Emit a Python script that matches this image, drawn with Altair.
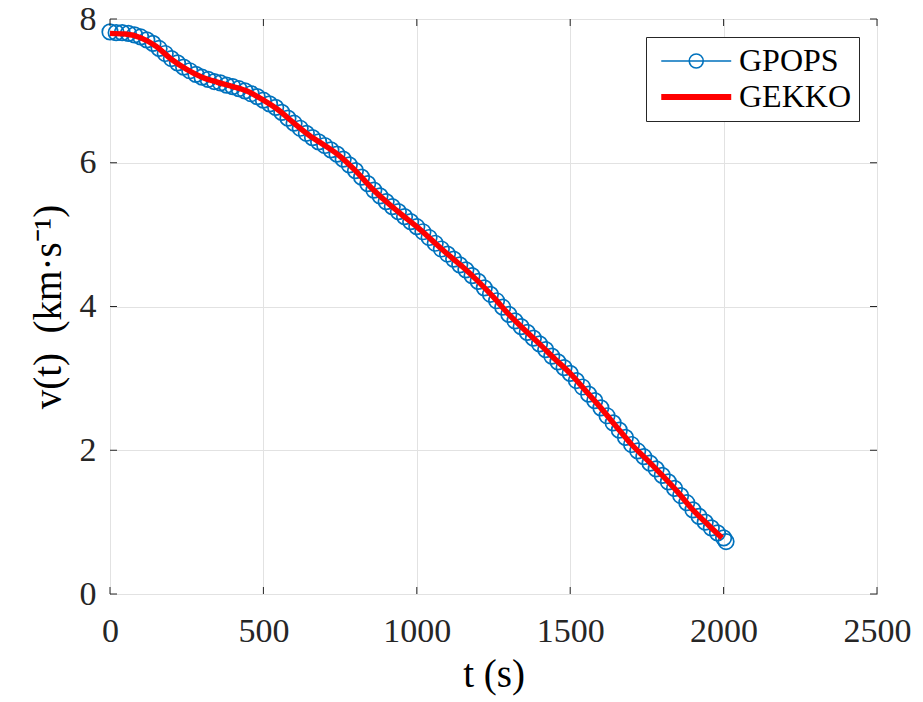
import altair as alt
import pandas as pd

# ---------------- data ----------------
gpops_t = [0, 20, 40, 60, 80, 100, 120, 140, 160, 180, 200, 220, 240, 260, 280, 300,
           320, 340, 360, 380, 400, 420, 440, 460, 480, 500, 520, 540, 560, 580, 600,
           620, 640, 660, 680, 700, 720, 740, 760, 780, 800, 820, 840, 860, 880, 900,
           920, 940, 960, 980, 1000, 1020, 1040, 1060, 1080, 1100, 1120, 1140, 1160,
           1180, 1200, 1220, 1240, 1260, 1280, 1300, 1320, 1340, 1360, 1380, 1400,
           1420, 1440, 1460, 1480, 1500, 1520, 1540, 1560, 1580, 1600, 1620, 1640,
           1660, 1680, 1700, 1720, 1740, 1760, 1780, 1800, 1820, 1840, 1860, 1880,
           1900, 1920, 1940, 1960, 1980, 2000, 2008]
gpops_v = [7.82, 7.81, 7.81, 7.80, 7.78, 7.75, 7.71, 7.66, 7.59, 7.52, 7.45, 7.39, 7.33,
           7.28, 7.23, 7.19, 7.16, 7.13, 7.11, 7.08, 7.06, 7.03, 7.00, 6.96, 6.92, 6.87,
           6.82, 6.77, 6.70, 6.62, 6.55, 6.48, 6.41, 6.35, 6.29, 6.24, 6.18, 6.12, 6.05,
           5.97, 5.89, 5.80, 5.71, 5.62, 5.54, 5.46, 5.39, 5.32, 5.25, 5.18, 5.11, 5.04,
           4.96, 4.88, 4.80, 4.73, 4.66, 4.58, 4.51, 4.43, 4.35, 4.26, 4.17, 4.08, 3.99,
           3.89, 3.80, 3.72, 3.64, 3.56, 3.48, 3.40, 3.31, 3.23, 3.15, 3.07, 2.97, 2.88,
           2.78, 2.69, 2.59, 2.48, 2.38, 2.28, 2.18, 2.08, 1.99, 1.91, 1.82, 1.74, 1.65,
           1.56, 1.47, 1.37, 1.27, 1.17, 1.08, 1.00, 0.92, 0.85, 0.78, 0.73]

gekko_t = [0, 50, 100, 150, 200, 250, 300, 350, 400, 450, 500, 550, 600, 650, 700, 750,
           800, 850, 900, 950, 1000, 1050, 1100, 1150, 1200, 1250, 1300, 1350, 1400,
           1450, 1500, 1550, 1600, 1650, 1700, 1750, 1800, 1850, 1900, 1950, 1995]
gekko_v = [7.80, 7.79, 7.74, 7.62, 7.44, 7.30, 7.19, 7.12, 7.06, 6.99, 6.87, 6.73, 6.55,
           6.38, 6.24, 6.09, 5.89, 5.66, 5.46, 5.28, 5.11, 4.92, 4.73, 4.55, 4.35, 4.13,
           3.89, 3.68, 3.48, 3.27, 3.07, 2.83, 2.59, 2.33, 2.08, 1.87, 1.65, 1.42, 1.17,
           0.96, 0.78]

series_names = ["GPOPS", "GEKKO"]
series_colors = ["#0072BD", "#FF0000"]

x_ticks = [0, 500, 1000, 1500, 2000, 2500]
y_ticks = [0, 2, 4, 6, 8]

W, H = 767, 575
FONT = "Liberation Serif"
AXC = "#262626"

gpops_df = pd.DataFrame({"t": gpops_t, "v": gpops_v, "series": "GPOPS"})
gekko_df = pd.DataFrame({"t": gekko_t, "v": gekko_v, "series": "GEKKO"})
xt_df = pd.DataFrame({"t": x_ticks})
yt_df = pd.DataFrame({"v": y_ticks})

xscale = alt.Scale(domain=[0, 2500], nice=False, zero=False)
yscale = alt.Scale(domain=[0, 8], nice=False, zero=False)

path_gpops = "M-1,0H7M3.8,0A0.8,0.8 0 1,1 2.2,0A0.8,0.8 0 1,1 3.8,0"
path_gekko = "M-1,0H7"

legend = alt.Legend(
    title=None,
    orient="top-right",
    offset=18,
    labelFont=FONT,
    labelFontSize=32,
    labelColor="#000000",
    labelOffset=53,
    symbolSize=306,
    symbolType={"expr": f"datum.value === 'GPOPS' ? '{path_gpops}' : '{path_gekko}'"},
    symbolStrokeWidth={"expr": "datum.value === 'GPOPS' ? 1.6 : 6"},
    symbolFillColor="transparent",
    symbolOpacity=1,
    fillColor="white",
    strokeColor=AXC,
    padding=8,
    rowPadding=4,
    labelLimit=300,
)

color = alt.Color("series:N", scale=alt.Scale(domain=series_names, range=series_colors),
                  legend=legend)

xaxis = alt.Axis(values=x_ticks, format="d", title="t\u00a0(s)", titleY=80,
                 titleBaseline="middle", labelPadding=20, labelFlush=False,
                 labelFont=FONT, titleFont=FONT)
yaxis = alt.Axis(values=y_ticks, format="d", title="v(t)\u00a0\u00a0(km·s⁻¹)",
                 titleX=-62, titleY=H / 2, titleBaseline="middle", titleAngle=270,
                 titleAlign="center", labelPadding=14, labelFont=FONT, titleFont=FONT)

points = alt.Chart(gpops_df).mark_point(filled=False, size=240, strokeWidth=1.7, opacity=1).encode(
    x=alt.X("t:Q", scale=xscale, axis=xaxis),
    y=alt.Y("v:Q", scale=yscale, axis=yaxis),
    color=color,
)

line = alt.Chart(gekko_df).mark_line(strokeWidth=5.5, interpolate="monotone").encode(
    x=alt.X("t:Q", scale=xscale),
    y=alt.Y("v:Q", scale=yscale),
    color=color,
)

TL = 7
bottom_ticks = alt.Chart(xt_df).mark_rule(color=AXC, strokeWidth=1).encode(
    x=alt.X("t:Q", scale=xscale), y=alt.value(H), y2=alt.value(H - TL))
top_ticks = alt.Chart(xt_df).mark_rule(color=AXC, strokeWidth=1).encode(
    x=alt.X("t:Q", scale=xscale), y=alt.value(0), y2=alt.value(TL))
left_ticks = alt.Chart(yt_df).mark_rule(color=AXC, strokeWidth=1).encode(
    y=alt.Y("v:Q", scale=yscale), x=alt.value(0), x2=alt.value(TL))
right_ticks = alt.Chart(yt_df).mark_rule(color=AXC, strokeWidth=1).encode(
    y=alt.Y("v:Q", scale=yscale), x=alt.value(W), x2=alt.value(W - TL))

chart = alt.layer(points, line, bottom_ticks, top_ticks, left_ticks, right_ticks).properties(
    width=W, height=H,
    autosize=alt.AutoSizeParams(type="none"),
    padding={"left": 110, "top": 19, "right": 46, "bottom": 108},
    background="white",
).configure(
    font=FONT
).configure_view(
    stroke=AXC, strokeWidth=1
).configure_axis(
    labelFont=FONT, labelFontSize=34, labelColor=AXC, labelOverlap=False,
    titleFont=FONT, titleFontSize=39, titleFontWeight="normal", titleColor="#000000",
    grid=True, gridColor="#E2E2E2", tickSize=0, domain=False,
)

chart.save("out.html", embed_options={"renderer": "svg", "actions": False})
